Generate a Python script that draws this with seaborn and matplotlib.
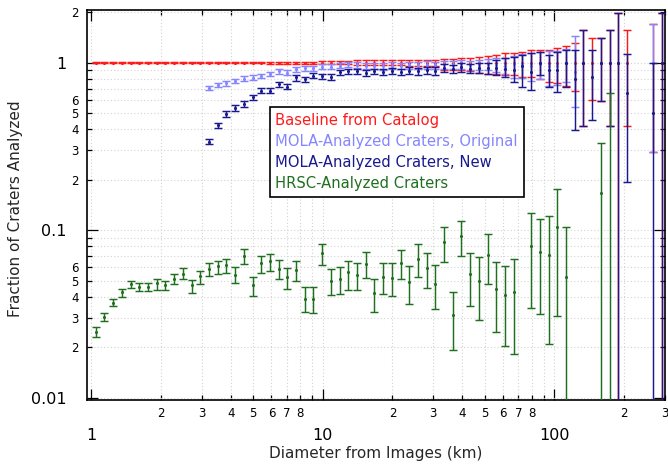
import numpy as np
import pandas as pd
import matplotlib
matplotlib.use("Agg")
import matplotlib.pyplot as plt
import seaborn as sns
from matplotlib.ticker import FixedLocator, FixedFormatter
from matplotlib.lines import Line2D

nan = float("nan")

# ---------------- data (bin centres, km) ----------------
diameter_km = [1.044, 1.139, 1.242, 1.354, 1.477, 1.611, 1.756, 1.915, 2.089, 2.278,
               2.484, 2.709, 2.954, 3.221, 3.513, 3.831, 4.177, 4.555, 4.968, 5.417,
               5.907, 6.442, 7.025, 7.661, 8.354, 9.111, 9.935, 10.83, 11.82, 12.88,
               14.05, 15.32, 16.71, 18.22, 19.87, 21.67, 23.63, 25.77, 28.10, 30.64,
               33.42, 36.44, 39.74, 43.34, 47.26, 51.54, 56.20, 61.29, 66.84, 72.88,
               79.48, 86.68, 94.52, 103.1, 112.4, 122.6, 133.7, 145.8, 159.0, 173.4,
               189.0, 206.2, 224.8, 245.2, 267.3, 291.5]

baseline_frac = [1.0, 1.0, 1.0, 1.0, 1.0, 1.0, 1.0, 1.0, 1.0, 1.0,
                 1.0, 1.0, 1.0, 1.0, 1.0, 1.0, 1.0, 1.0, 1.0, 1.0,
                 1.0, 1.0, 1.0, 1.0, 1.0, 1.0, 1.0, 1.0, 1.0, 1.0,
                 1.0, 1.0, 1.0, 1.0, 1.0, 1.0, 1.0, 1.0, 1.0, 1.0,
                 1.0, 1.0, 1.0, 1.0, 1.0, 1.0, 1.0, 1.0, 1.0, 1.0,
                 1.0, 1.0, 1.0, 1.0, 1.0, 1.0, 1.0, 1.0, 1.0, 1.0,
                 1.0, 1.0, nan, nan, 1.0, 1.0]
baseline_lo = [0.992, 0.992, 0.992, 0.992, 0.992, 0.992, 0.992, 0.992, 0.992, 0.992,
               0.99, 0.99, 0.99, 0.99, 0.99, 0.99, 0.99, 0.99, 0.99, 0.99,
               0.985, 0.985, 0.985, 0.985, 0.985, 0.985, 0.975, 0.975, 0.975, 0.975,
               0.965, 0.965, 0.965, 0.965, 0.965, 0.965, 0.95, 0.95, 0.95, 0.95,
               0.905, 0.90, 0.90, 0.885, 0.871, 0.86, 0.85, 0.845, 0.84, 0.825,
               0.82, 0.80, 0.77, 0.753, 0.73, 0.68, 0.419, 0.599, 0.593, 0.419,
               0.0001, 0.42, nan, nan, 0.292, 0.0001]
baseline_hi = [1.008, 1.008, 1.008, 1.008, 1.008, 1.008, 1.008, 1.008, 1.008, 1.008,
               1.01, 1.01, 1.01, 1.01, 1.01, 1.01, 1.01, 1.01, 1.01, 1.01,
               1.015, 1.015, 1.015, 1.015, 1.015, 1.015, 1.025, 1.025, 1.025, 1.025,
               1.03, 1.03, 1.03, 1.03, 1.03, 1.03, 1.04, 1.04, 1.04, 1.04,
               1.048, 1.055, 1.06, 1.07, 1.077, 1.09, 1.11, 1.137, 1.14, 1.153,
               1.19, 1.19, 1.19, 1.22, 1.25, 1.30, 1.566, 1.398, 1.398, 1.566,
               1.97, 1.566, nan, nan, 1.70, 1.97]

mola_orig_frac = [nan, nan, nan, nan, nan, nan, nan, nan, nan, nan,
                  nan, nan, nan, 0.703, 0.736, 0.753, 0.777, 0.803, 0.814, 0.833,
                  0.856, 0.888, 0.871, 0.913, 0.926, 0.926, 0.946, 0.946, 0.960, 0.975,
                  0.970, 0.955, 0.960, 0.950, 0.960, 0.955, 0.965, 0.960, 0.970, 0.965,
                  0.975, 0.970, 0.975, 0.965, 0.970, 0.975, 0.970, 0.960, 0.975, 0.985,
                  0.960, 0.985, 0.960, 0.950, 0.990, 0.880, nan, nan, nan, nan,
                  nan, nan, nan, nan, 1.0, nan]
mola_orig_lo = [nan, nan, nan, nan, nan, nan, nan, nan, nan, nan,
                nan, nan, nan, 0.682, 0.714, 0.730, 0.753, 0.778, 0.789, 0.806,
                0.828, 0.858, 0.842, 0.882, 0.894, 0.893, 0.912, 0.911, 0.924, 0.938,
                0.932, 0.916, 0.920, 0.909, 0.918, 0.912, 0.920, 0.914, 0.922, 0.916,
                0.922, 0.915, 0.916, 0.904, 0.905, 0.900, 0.880, 0.850, 0.807, 0.807,
                0.780, 0.800, 0.726, 0.740, 0.770, 0.546, nan, nan, nan, nan,
                nan, nan, nan, nan, 0.292, nan]
mola_orig_hi = [nan, nan, nan, nan, nan, nan, nan, nan, nan, nan,
                nan, nan, nan, 0.724, 0.758, 0.776, 0.801, 0.828, 0.840, 0.860,
                0.884, 0.918, 0.900, 0.944, 0.958, 0.959, 0.980, 0.981, 0.996, 1.012,
                1.008, 0.994, 1.000, 0.991, 1.002, 0.998, 1.010, 1.006, 1.018, 1.014,
                1.028, 1.025, 1.034, 1.026, 1.035, 1.050, 1.060, 1.070, 1.100, 1.120,
                1.140, 1.160, 1.170, 1.180, 1.200, 1.443, nan, nan, nan, nan,
                nan, nan, nan, nan, 1.70, nan]

mola_new_frac = [nan, nan, nan, nan, nan, nan, nan, nan, nan, nan,
                 nan, nan, nan, 0.338, 0.423, 0.494, 0.534, 0.567, 0.621, 0.681,
                 0.681, 0.743, 0.719, 0.818, 0.796, 0.836, 0.830, 0.818, 0.876, 0.892,
                 0.890, 0.870, 0.885, 0.878, 0.890, 0.880, 0.895, 0.885, 0.900, 0.890,
                 0.930, 0.920, 0.935, 0.920, 0.925, 0.930, 0.930, 0.910, 0.905, 0.950,
                 0.884, 0.990, 0.905, 0.905, 0.991, 0.796, 1.000, 0.818, 1.000, 1.000,
                 1.000, 0.662, nan, nan, 0.500, 1.000]
mola_new_lo = [nan, nan, nan, nan, nan, nan, nan, nan, nan, nan,
               nan, nan, nan, 0.329, 0.408, 0.474, 0.513, 0.544, 0.596, 0.657,
               0.655, 0.713, 0.694, 0.778, 0.770, 0.807, 0.800, 0.790, 0.845, 0.860,
               0.858, 0.836, 0.850, 0.842, 0.853, 0.842, 0.855, 0.843, 0.856, 0.844,
               0.880, 0.868, 0.880, 0.862, 0.862, 0.860, 0.844, 0.825, 0.770, 0.720,
               0.687, 0.845, 0.713, 0.671, 0.713, 0.397, 0.419, 0.455, 0.593, 0.419,
               0.0001, 0.195, nan, nan, 0.0001, 0.0001]
mola_new_hi = [nan, nan, nan, nan, nan, nan, nan, nan, nan, nan,
               nan, nan, nan, 0.349, 0.438, 0.515, 0.557, 0.590, 0.644, 0.709,
               0.709, 0.767, 0.746, 0.841, 0.822, 0.864, 0.860, 0.850, 0.905, 0.920,
               0.920, 0.904, 0.920, 0.914, 0.927, 0.918, 0.935, 0.927, 0.944, 0.936,
               0.980, 0.972, 0.990, 0.978, 0.990, 1.000, 1.038, 1.062, 1.086, 1.110,
               1.137, 1.163, 1.110, 1.163, 1.190, 1.190, 1.566, 1.190, 1.398, 1.566,
               1.970, 1.127, nan, nan, 1.000, 1.970]

hrsc_frac = [0.0248, 0.0303, 0.0370, 0.0425, 0.0475, 0.0460, 0.0460, 0.0481, 0.0470, 0.0514,
             0.0550, 0.0468, 0.0531, 0.0586, 0.0608, 0.0616, 0.0542, 0.0704, 0.0470, 0.0636,
             0.0651, 0.0589, 0.0523, 0.0576, 0.0390, 0.0390, 0.0727, 0.0499, 0.0512, 0.0561,
             0.0542, 0.0628, 0.0420, 0.0525, 0.0520, 0.0640, 0.0488, 0.0672, 0.0594, 0.0477,
             0.0846, 0.0310, 0.0920, 0.0547, 0.0495, 0.0714, 0.0448, 0.0408, 0.0427, nan,
             0.0808, 0.0744, 0.0711, 0.1049, 0.0525, nan, nan, nan, 0.166, 0.005,
             nan, nan, nan, nan, nan, nan]
hrsc_lo = [0.0231, 0.0286, 0.0352, 0.0402, 0.0452, 0.0433, 0.0433, 0.0439, 0.0439, 0.0479,
           0.0509, 0.0424, 0.0477, 0.0535, 0.0547, 0.0552, 0.0486, 0.0625, 0.0406, 0.0557,
           0.0568, 0.0512, 0.0446, 0.0499, 0.0323, 0.0319, 0.0616, 0.0412, 0.0416, 0.0439,
           0.0441, 0.0516, 0.0325, 0.0416, 0.0406, 0.0509, 0.0365, 0.0528, 0.0450, 0.0341,
           0.0643, 0.0194, 0.0698, 0.0354, 0.0292, 0.0477, 0.0246, 0.0205, 0.0182, nan,
           0.0342, 0.0316, 0.0209, 0.0309, 0.0001, nan, nan, nan, 0.0001, 0.0001,
           nan, nan, nan, nan, nan, nan]
hrsc_hi = [0.0263, 0.0320, 0.0390, 0.0446, 0.0497, 0.0486, 0.0486, 0.0508, 0.0499, 0.0550,
           0.0592, 0.0506, 0.0573, 0.0640, 0.0657, 0.0672, 0.0603, 0.0768, 0.0525, 0.0704,
           0.0721, 0.0663, 0.0592, 0.0654, 0.0458, 0.0460, 0.0824, 0.0589, 0.0606, 0.0657,
           0.0636, 0.0738, 0.0512, 0.0636, 0.0634, 0.0765, 0.0608, 0.0823, 0.0735, 0.0616,
           0.1049, 0.0427, 0.1139, 0.0735, 0.0688, 0.0945, 0.0644, 0.0608, 0.0670, nan,
           0.1266, 0.1165, 0.1210, 0.177, 0.1049, nan, nan, nan, 0.33, 0.662,
           nan, nan, nan, nan, nan, nan]

series_names = ["Baseline from Catalog", "MOLA-Analyzed Craters, Original",
                "MOLA-Analyzed Craters, New", "HRSC-Analyzed Craters"]
series_colors = ["#ff1a1a", "#8585ff", "#18188f", "#1f6f1f"]

x_major = [1, 10, 100]
x_major_labels = ["1", "10", "100"]
x_minor = [2, 3, 4, 5, 6, 7, 8, 9, 20, 30, 40, 50, 60, 70, 80, 90, 200, 300]
x_minor_labels = ["2", "3", "4", "5", "6", "7", "8", "", "2", "3", "4", "5", "6", "7", "8", "", "2", "3"]
y_major = [0.01, 0.1, 1]
y_major_labels = ["0.01", "0.1", "1"]
y_minor = [0.02, 0.03, 0.04, 0.05, 0.06, 0.07, 0.08, 0.09,
           0.2, 0.3, 0.4, 0.5, 0.6, 0.7, 0.8, 0.9, 2]
y_minor_labels = ["2", "3", "4", "5", "6", "", "", "",
                  "2", "3", "4", "5", "6", "", "", "", "2"]

# ---------------- figure ----------------
sns.set_style("ticks")
plt.rcParams["font.family"] = ["DejaVu Sans"]

fig = plt.figure(figsize=(6.68, 4.69), dpi=100)
ax = fig.add_axes([0.1307, 0.1471, 0.8648, 0.8316])
ax.set_xscale("log")
ax.set_yscale("log")

series = [
    (baseline_frac, baseline_lo, baseline_hi),
    (mola_orig_frac, mola_orig_lo, mola_orig_hi),
    (mola_new_frac, mola_new_lo, mola_new_hi),
    (hrsc_frac, hrsc_lo, hrsc_hi),
]
for i, ((frac, lo, hi), name, color) in enumerate(zip(series, series_names, series_colors)):
    df = pd.DataFrame({"d": diameter_km, "f": frac, "lo": lo, "hi": hi}).dropna()
    ax.errorbar(df["d"], df["f"], yerr=[df["f"] - df["lo"], df["hi"] - df["f"]],
                fmt="none", ecolor=color, elinewidth=1.05, capsize=2.6, capthick=1.05,
                zorder=2 + i)
    sns.scatterplot(data=df, x="d", y="f", color=color, s=5, linewidth=0,
                    ax=ax, zorder=2.5 + i, legend=False)

ax.set_xlim(0.96, 301)
ax.set_ylim(0.0097, 2.06)

ax.xaxis.set_major_locator(FixedLocator(x_major))
ax.xaxis.set_major_formatter(FixedFormatter(x_major_labels))
ax.xaxis.set_minor_locator(FixedLocator(x_minor))
ax.xaxis.set_minor_formatter(FixedFormatter(x_minor_labels))
ax.yaxis.set_major_locator(FixedLocator(y_major))
ax.yaxis.set_major_formatter(FixedFormatter(y_major_labels))
ax.yaxis.set_minor_locator(FixedLocator(y_minor))
ax.yaxis.set_minor_formatter(FixedFormatter(y_minor_labels))

ax.tick_params(which="both", direction="in", top=True, right=True,
               color="black", labelcolor="black")
ax.tick_params(which="major", length=8, width=0.9, labelsize=11.5)
ax.tick_params(which="minor", length=3.8, width=0.9, labelsize=8.5)
ax.tick_params(axis="x", which="major", pad=20)
ax.tick_params(axis="x", which="minor", pad=5)
ax.tick_params(axis="y", which="major", pad=15)
ax.tick_params(axis="y", which="minor", pad=6)

ax.grid(True, which="both", color="#d2d2d2", linestyle=(0, (1, 2)), linewidth=0.8)
ax.set_axisbelow(True)
for sp in ax.spines.values():
    sp.set_color("black")
    sp.set_linewidth(1.2)

ax.set_xlabel("Diameter from Images (km)", fontsize=11)
ax.set_ylabel("Fraction of Craters Analyzed", fontsize=11)
ax.xaxis.set_label_coords(0.5, -0.118)
ax.yaxis.set_label_coords(-0.112, 0.49)

handles = [Line2D([], [], linestyle="none") for _ in series_names]
leg = ax.legend(handles, series_names, loc="upper left", bbox_to_anchor=(0.316, 0.751),
                borderaxespad=0, frameon=True, fancybox=False, framealpha=1,
                edgecolor="black", fontsize=10.6, handlelength=0, handletextpad=0,
                labelspacing=0.42, borderpad=0.38)
leg.get_frame().set_linewidth(1.2)
for t, c in zip(leg.get_texts(), series_colors):
    t.set_color(c)

fig.savefig("out.png", dpi=100)
